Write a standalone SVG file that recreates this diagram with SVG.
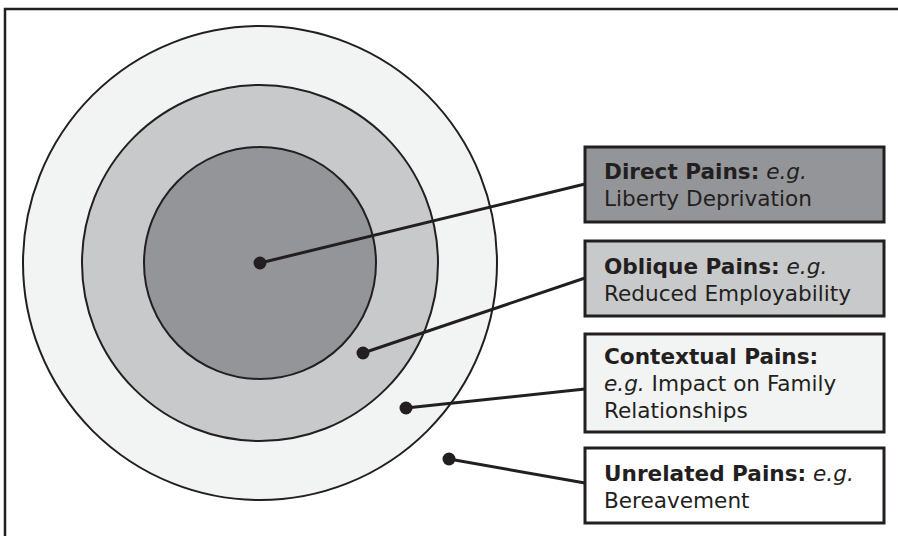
<svg xmlns="http://www.w3.org/2000/svg" width="898" height="536" viewBox="0 0 898 536">
<style>
.ring{stroke:#231f20;stroke-width:2}
.box{stroke:#231f20;stroke-width:3}
.conn{stroke:#231f20;stroke-width:3;fill:none}
.dot{fill:#231f20}
text{font-family:"DejaVu Sans",Verdana,sans-serif;font-size:21.6px;fill:#231f20}
.b{font-weight:bold}
.i{font-style:italic}
</style>
<rect width="898" height="536" fill="#ffffff"/>
<path d="M5 536 V9 H898" fill="none" stroke="#231f20" stroke-width="2.5"/>
<g id="rings">
<circle id="outer" class="ring" cx="260" cy="263" r="237" fill="#f2f3f3"/>
<circle id="middle" class="ring" cx="260" cy="263" r="178" fill="#c8c9cb"/>
<circle id="inner" class="ring" cx="260" cy="263" r="116" fill="#939598"/>
</g>
<g id="connectors">
<line class="conn" x1="260" y1="263" x2="585" y2="184"/>
<line class="conn" x1="363" y1="353" x2="585" y2="278"/>
<line class="conn" x1="406" y1="408" x2="585" y2="389"/>
<line class="conn" x1="449" y1="459" x2="585" y2="483"/>
<circle class="dot" cx="260" cy="263" r="6.5"/>
<circle class="dot" cx="363" cy="353" r="6.5"/>
<circle class="dot" cx="406" cy="408" r="6.5"/>
<circle class="dot" cx="449" cy="459" r="6.5"/>
</g>
<g id="direct">
<rect class="box" x="585" y="147" width="299" height="75" fill="#939598"/>
<text x="604" y="179"><tspan class="b">Direct Pains:</tspan> <tspan class="i">e.g.</tspan></text>
<text x="604" y="206">Liberty Deprivation</text>
</g>
<g id="oblique">
<rect class="box" x="585" y="241" width="299" height="75" fill="#c8c9cb"/>
<text x="604" y="274"><tspan class="b">Oblique Pains:</tspan> <tspan class="i">e.g.</tspan></text>
<text x="604" y="301">Reduced Employability</text>
</g>
<g id="contextual">
<rect class="box" x="585" y="334" width="299" height="98" fill="#f2f3f3"/>
<text x="604" y="364" class="b">Contextual Pains:</text>
<text x="604" y="391"><tspan class="i">e.g.</tspan> Impact on Family</text>
<text x="604" y="418">Relationships</text>
</g>
<g id="unrelated">
<rect class="box" x="585" y="448" width="299" height="75" fill="#ffffff"/>
<text x="604" y="481"><tspan class="b">Unrelated Pains:</tspan> <tspan class="i">e.g.</tspan></text>
<text x="604" y="508">Bereavement</text>
</g>
</svg>
